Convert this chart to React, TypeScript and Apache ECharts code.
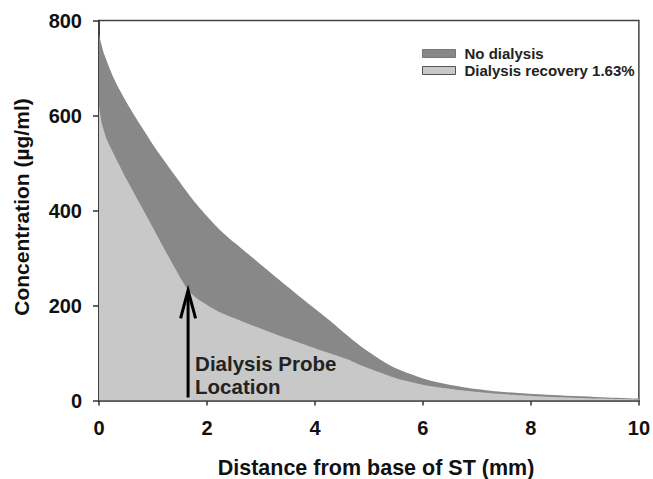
import React, { useEffect, useRef } from "react";
import * as echarts from "echarts";

// Distance from base of ST (mm) and concentration (µg/ml)
const noDialysisX = [0, 0.1, 0.3, 0.55, 0.8, 1.05, 1.45, 1.75, 2.0, 2.25, 2.5, 3.0, 3.5, 4.0, 4.3, 4.6, 4.9, 5.2, 5.5, 6.1, 6.75, 7.4, 8.3, 9.3, 10];
const noDialysisY = [770, 728, 672, 620, 574, 530, 467, 421, 388, 358, 333, 286, 239, 193, 166, 137, 110, 87, 68, 43, 28, 19, 12, 7, 4];

const dialysisX = [0, 0.05, 0.15, 0.5, 0.9, 1.4, 1.65, 1.85, 2.2, 2.8, 3.4, 4.0, 4.6, 4.9, 5.5, 6.1, 6.75, 7.4, 8.3, 9.3, 10];
const dialysisY = [620, 585, 548, 468, 385, 280, 232, 212, 188, 160, 134, 110, 87, 72, 47, 31, 21, 14, 8, 4, 2];

const seriesNames = ["No dialysis", "Dialysis recovery 1.63%"];
const xTicks = [0, 2, 4, 6, 8, 10];
const yTicks = [0, 200, 400, 600, 800];

const probeX = 1.65;
const probeTipY = 232;
const probeLabel = ["Dialysis Probe", "Location"];
const xTitle = "Distance from base of ST (mm)";
const yTitle = "Concentration (µg/ml)";

const FONT = "'Liberation Sans', Arial, Helvetica, sans-serif";
const DARK = "#888888";
const LIGHT = "#c8c8c8";

export default function App() {
  const ref = useRef<HTMLDivElement>(null);
  useEffect(() => {
    if (!ref.current) return;
    const chart = echarts.init(ref.current, null, { renderer: "svg" });
    const upper = noDialysisX.map((x, i) => [x, noDialysisY[i]]);
    const lower = dialysisX.map((x, i) => [x, dialysisY[i]]);
    chart.setOption({
      animation: false,
      backgroundColor: "#ffffff",
      grid: {
        left: 99,
        right: 13,
        top: 20.5,
        bottom: 78.5,
        show: true,
        borderColor: "#444",
        borderWidth: 1.5,
      },
      legend: {
        orient: "vertical",
        left: 417,
        top: 41,
        itemWidth: 33,
        itemHeight: 8,
        itemGap: 2,
        icon: "rect",
        textStyle: {
          fontFamily: FONT,
          fontWeight: "bold",
          fontSize: 15,
          color: "#222",
          padding: [0, 0, 0, 4],
        },
        data: [
          { name: seriesNames[0], itemStyle: { color: DARK, borderColor: "#777", borderWidth: 1 } },
          { name: seriesNames[1], itemStyle: { color: LIGHT, borderColor: "#555", borderWidth: 1 } },
        ],
      },
      xAxis: {
        type: "value",
        min: 0,
        max: 10,
        interval: 2,
        axisLine: { show: true, lineStyle: { color: "#333", width: 1.5 } },
        axisTick: { show: true, length: 5, lineStyle: { color: "#333", width: 1.5 } },
        splitLine: { show: false },
        axisLabel: {
          margin: 17,
          fontFamily: FONT,
          fontWeight: "bold",
          fontSize: 20,
          color: "#111",
          formatter: (v: number) => (xTicks.includes(v) ? String(v) : ""),
        },
      },
      yAxis: {
        type: "value",
        min: 0,
        max: 800,
        interval: 200,
        axisLine: { show: true, lineStyle: { color: "#333", width: 1.5 } },
        axisTick: { show: true, length: 6, lineStyle: { color: "#333", width: 1.5 } },
        splitLine: { show: false },
        axisLabel: {
          margin: 17,
          fontFamily: FONT,
          fontWeight: "bold",
          fontSize: 20,
          color: "#111",
          formatter: (v: number) => (yTicks.includes(v) ? String(v) : ""),
        },
      },
      series: [
        {
          name: seriesNames[0],
          type: "line",
          data: upper,
          smooth: 0.25,
          showSymbol: false,
          color: DARK,
          lineStyle: { width: 0, color: DARK },
          areaStyle: { color: DARK, opacity: 1 },
          z: 1,
        },
        {
          name: seriesNames[1],
          type: "line",
          data: lower,
          smooth: 0.15,
          showSymbol: false,
          color: LIGHT,
          lineStyle: { width: 0, color: LIGHT },
          areaStyle: { color: LIGHT, opacity: 1 },
          z: 2,
        },
      ],
    });

    const base = chart.convertToPixel({ gridIndex: 0 }, [probeX, 0]) as number[];
    const tip = chart.convertToPixel({ gridIndex: 0 }, [probeX, probeTipY]) as number[];
    chart.setOption({
      graphic: [
        {
          type: "line",
          shape: { x1: base[0], y1: base[1] - 3, x2: tip[0], y2: tip[1] + 2 },
          style: { stroke: "#000", lineWidth: 3 },
          z: 100,
        },
        {
          type: "polyline",
          shape: {
            points: [
              [tip[0] - 7.5, tip[1] + 28],
              [tip[0], tip[1]],
              [tip[0] + 7.5, tip[1] + 28],
            ],
          },
          style: { stroke: "#000", lineWidth: 3, fill: null },
          z: 100,
        },
        {
          type: "text",
          x: base[0] + 7,
          y: 363,
          style: {
            text: probeLabel[0],
            font: `bold 20.5px ${FONT}`,
            fill: "#222",
            verticalAlign: "middle",
            align: "left",
          },
          z: 100,
        },
        {
          type: "text",
          x: base[0] + 7,
          y: 386,
          style: {
            text: probeLabel[1],
            font: `bold 20.5px ${FONT}`,
            fill: "#222",
            verticalAlign: "middle",
            align: "left",
          },
          z: 100,
        },
        {
          type: "text",
          x: 376,
          y: 468,
          style: {
            text: xTitle,
            font: `bold 21.5px ${FONT}`,
            fill: "#111",
            align: "center",
            verticalAlign: "middle",
          },
        },
        {
          type: "text",
          x: 21,
          y: 207,
          rotation: Math.PI / 2,
          style: {
            text: yTitle,
            font: `bold 21px ${FONT}`,
            fill: "#111",
            align: "center",
            verticalAlign: "middle",
          },
        },
      ],
    });
    return () => chart.dispose();
  }, []);
  return (
    <div
      ref={ref}
      style={{ position: "fixed", left: 0, top: 0, width: 653, height: 479, background: "#fff" }}
    />
  );
}
